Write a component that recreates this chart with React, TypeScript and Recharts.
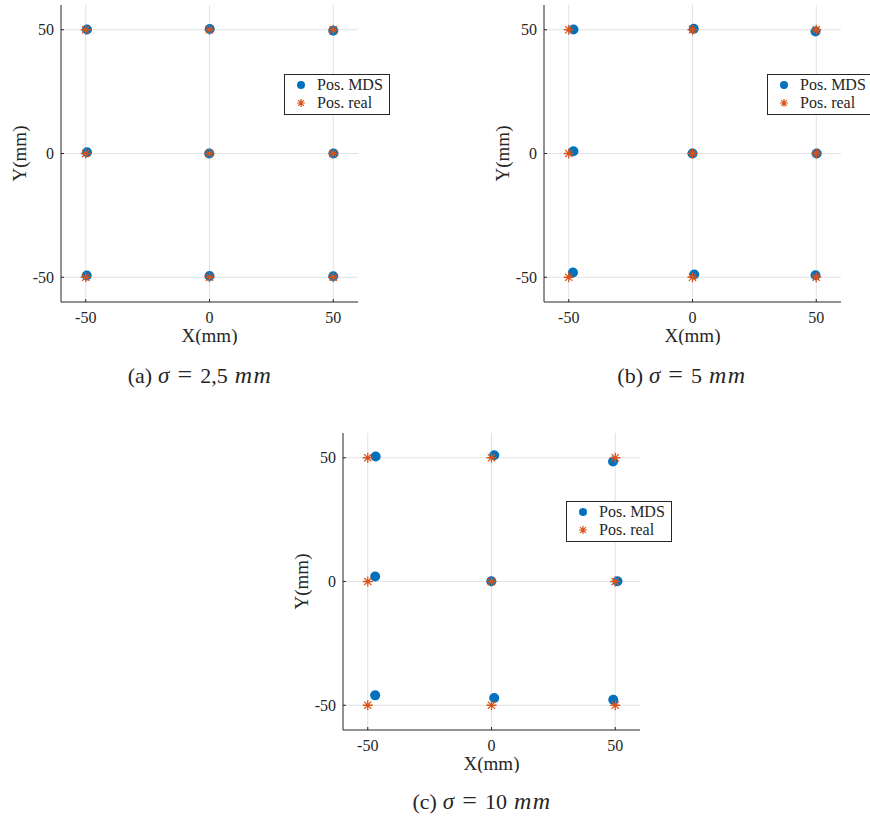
import React from "react";
import { Legend, ReferenceLine, Scatter, ScatterChart, XAxis, YAxis } from "recharts";

const FONT = '"Liberation Serif", "Times New Roman", serif';
const BLUE = "#0072BD";
const ORANGE = "#D95319";
const INK = "#262626";
const GRID = "#e2e2e2";

const axisTicks = [-50, 0, 50];
const axisDomain = [-60, 60];

// real sensor positions (3x3 grid)
const realX = [-50, 0, 50, -50, 0, 50, -50, 0, 50];
const realY = [50, 50, 50, 0, 0, 0, -50, -50, -50];

// MDS estimates, sigma = 2.5 mm
const mdsAX = [-49.5, 0.1, 50, -49.5, -0.1, 50.1, -49.6, 0, 50];
const mdsAY = [50.1, 50.3, 49.6, 0.5, 0, 0, -49.3, -49.5, -49.6];
// sigma = 5 mm
const mdsBX = [-48.1, 0.5, 49.7, -48.1, 0, 50.2, -48.3, 0.7, 49.7];
const mdsBY = [50.1, 50.4, 49.3, 0.9, 0, 0, -48.1, -48.9, -49.2];
// sigma = 10 mm
const mdsCX = [-46.8, 1.1, 49.1, -47.0, -0.1, 50.9, -47.0, 1.1, 49.2];
const mdsCY = [50.5, 51.0, 48.5, 2.0, 0.1, 0.1, -46.0, -47.1, -47.8];

const legendNames = ["Pos. MDS", "Pos. real"];

type Pt = { x: number; y: number };
const toPoints = (xs: number[], ys: number[]): Pt[] =>
  xs.map((x, i) => ({ x, y: ys[i] }));

const starPath = (cx: number, cy: number, r: number) => {
  const d = r * 0.72;
  return `M${cx - r},${cy}H${cx + r}M${cx},${cy - r}V${cy + r}M${cx - d},${cy - d}L${cx + d},${cy + d}M${cx - d},${cy + d}L${cx + d},${cy - d}`;
};

const DotShape = (p: any) => <circle cx={p.cx} cy={p.cy} r={5} fill={BLUE} />;
const StarShape = (p: any) => (
  <path d={starPath(p.cx, p.cy, 5)} stroke={ORANGE} strokeWidth={1.3} fill="none" />
);

const LegendBox = () => (
  <div
    style={{
      position: "relative",
      width: 106,
      height: 41,
      boxSizing: "border-box",
      border: `1px solid ${INK}`,
      background: "#fff",
      fontFamily: FONT,
      fontSize: 16,
      color: INK,
    }}
  >
    {legendNames.map((name, i) => (
      <div
        key={name}
        style={{
          position: "absolute",
          left: 0,
          top: 1 + i * 18,
          height: 18,
          display: "flex",
          alignItems: "center",
          whiteSpace: "nowrap",
        }}
      >
        <svg width={32} height={18}>
          {i === 0 ? (
            <circle cx={16} cy={9} r={4} fill={BLUE} />
          ) : (
            <path d={starPath(16, 9, 4)} stroke={ORANGE} strokeWidth={1.2} fill="none" />
          )}
        </svg>
        <span>{name}</span>
      </div>
    ))}
  </div>
);

type PanelProps = {
  left: number;
  top: number;
  width: number;
  yAxisWidth: number;
  mdsX: number[];
  mdsY: number[];
  legendLeft: number;
  legendTop: number;
};

function Panel({ left, top, width, yAxisWidth, mdsX, mdsY, legendLeft, legendTop }: PanelProps) {
  const plotW = 297;
  return (
    <div style={{ position: "absolute", left, top }}>
      <ScatterChart
        width={width}
        height={345}
        margin={{ top: 5, right: width - yAxisWidth - plotW, bottom: 0, left: 0 }}
      >
        {/* grid lines only at the tick values */}
        {axisTicks.map((t) => (
          <ReferenceLine key={`gx${t}`} x={t} stroke={GRID} strokeWidth={1} />
        ))}
        {axisTicks.map((t) => (
          <ReferenceLine key={`gy${t}`} y={t} stroke={GRID} strokeWidth={1} />
        ))}
        <XAxis
          type="number"
          dataKey="x"
          domain={axisDomain}
          ticks={axisTicks}
          height={43}
          tickSize={-3}
          tickMargin={13}
          stroke={INK}
          tick={{ fill: INK, fontSize: 16, fontFamily: FONT }}
          label={{
            content: ({ viewBox }: any) => (
              <text
                x={viewBox.x + viewBox.width / 2}
                y={viewBox.y + 40}
                textAnchor="middle"
                fill={INK}
                fontSize={19}
                fontFamily={FONT}
              >
                X(mm)
              </text>
            ),
          }}
        />
        <YAxis
          type="number"
          dataKey="y"
          domain={axisDomain}
          ticks={axisTicks}
          width={yAxisWidth}
          tickSize={-3}
          tickMargin={10}
          stroke={INK}
          tick={{ fill: INK, fontSize: 16, fontFamily: FONT }}
          label={{
            content: ({ viewBox }: any) => {
              const x = viewBox.x + viewBox.width - 35;
              const y = viewBox.y + viewBox.height / 2;
              return (
                <text
                  x={x}
                  y={y}
                  transform={`rotate(-90, ${x}, ${y})`}
                  textAnchor="middle"
                  fill={INK}
                  fontSize={19}
                  fontFamily={FONT}
                >
                  Y(mm)
                </text>
              );
            },
          }}
        />
        <Legend
          layout="vertical"
          align="center"
          verticalAlign="middle"
          wrapperStyle={{ left: legendLeft, top: legendTop, width: "auto" }}
          content={() => <LegendBox />}
        />
        <Scatter
          name={legendNames[0]}
          data={toPoints(mdsX, mdsY)}
          shape={DotShape}
          isAnimationActive={false}
        />
        <Scatter
          name={legendNames[1]}
          data={toPoints(realX, realY)}
          shape={StarShape}
          isAnimationActive={false}
        />
      </ScatterChart>
    </div>
  );
}

function Caption({ center, baseline, tag, sigma }: { center: number; baseline: number; tag: string; sigma: string }) {
  return (
    <div
      style={{
        position: "absolute",
        left: center - 150,
        width: 300,
        top: baseline - 18.5,
        lineHeight: "22px",
        fontSize: 22,
        fontFamily: FONT,
        color: INK,
        textAlign: "center",
        whiteSpace: "nowrap",
      }}
    >
      ({tag})<i style={{ marginLeft: 6, fontSize: 23 }}>σ</i>
      <span style={{ margin: "0 8px", fontSize: 26 }}>=</span>
      {sigma}
      <i style={{ marginLeft: 7, fontSize: 24, letterSpacing: 1.5 }}>mm</i>
    </div>
  );
}

export default function App() {
  return (
    <div
      style={{
        position: "absolute",
        left: 0,
        top: 0,
        width: 870,
        height: 819,
        overflow: "hidden",
        background: "#fff",
      }}
    >
      <Panel left={0} top={0} width={400} yAxisWidth={61} mdsX={mdsAX} mdsY={mdsAY} legendLeft={284} legendTop={74} />
      <Panel left={480} top={0} width={390} yAxisWidth={64} mdsX={mdsBX} mdsY={mdsBY} legendLeft={287} legendTop={74} />
      <Panel left={280} top={428} width={420} yAxisWidth={63} mdsX={mdsCX} mdsY={mdsCY} legendLeft={286} legendTop={73} />
      <Caption center={200} baseline={382} tag="a" sigma="2,5" />
      <Caption center={682} baseline={382} tag="b" sigma="5" />
      <Caption center={482} baseline={808} tag="c" sigma="10" />
    </div>
  );
}
